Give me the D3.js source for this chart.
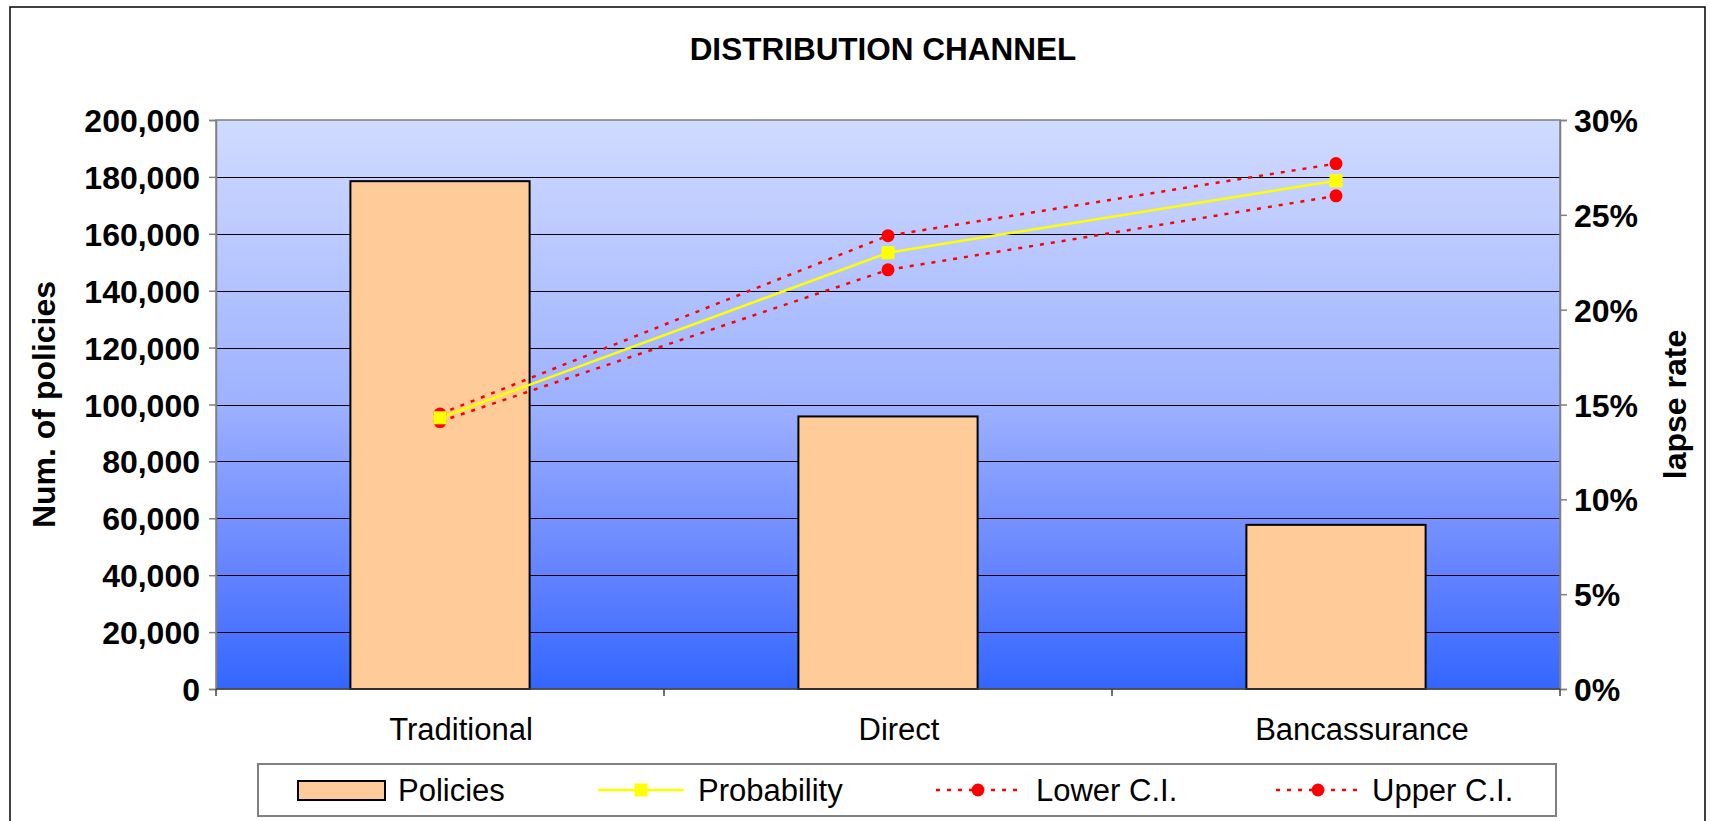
<!DOCTYPE html>
<html>
<head>
<meta charset="utf-8">
<script src="https://cdn.jsdelivr.net/npm/d3@7"></script>
<style>
  html, body { margin: 0; padding: 0; background: #ffffff; }
  svg { display: block; font-family: "Liberation Sans", Arial, sans-serif; }
</style>
</head>
<body>
<svg id="chart" width="1710" height="821"></svg>
<script>
// ---- data ----
const categories = ["Traditional", "Direct", "Bancassurance"];
const policies = [178500, 95800, 57700];
const probability = [0.143, 0.230, 0.268];
const lowerCI = [0.141, 0.221, 0.260];
const upperCI = [0.145, 0.239, 0.277];
const leftTicks = [0, 20000, 40000, 60000, 80000, 100000, 120000, 140000, 160000, 180000, 200000];
const rightTicks = [0, 0.05, 0.10, 0.15, 0.20, 0.25, 0.30];
const titleText = "DISTRIBUTION CHANNEL";
const leftTitle = "Num. of policies";
const rightTitle = "lapse rate";
const legendLabels = ["Policies", "Probability", "Lower C.I.", "Upper C.I."];

// ---- layout ----
const plot = { left: 216, right: 1560, top: 120, bottom: 689 };
const svg = d3.select("#chart");

// outer border
svg.append("rect").attr("x", 10).attr("y", 7).attr("width", 1695).attr("height", 830)
  .attr("fill", "#ffffff").attr("stroke", "#000000").attr("stroke-width", 1.5);

// gradient
const defs = svg.append("defs");
const grad = defs.append("linearGradient").attr("id", "bg").attr("x1", 0).attr("y1", 0).attr("x2", 0).attr("y2", 1);
[[0, "#D0DBFF"], [0.5, "#9DB1FF"], [0.78, "#6785FF"], [1, "#3366FF"]].forEach(([o, c]) =>
  grad.append("stop").attr("offset", o).attr("stop-color", c));

// scales
const x = d3.scaleBand().domain(categories).range([plot.left, plot.right]).paddingInner(0).paddingOuter(0);
const yL = d3.scaleLinear().domain([0, 200000]).range([plot.bottom, plot.top]);
const yR = d3.scaleLinear().domain([0, 0.30]).range([plot.bottom, plot.top]);
const barW = x.bandwidth() / 2.5;

// plot background
svg.append("rect").attr("x", plot.left).attr("y", plot.top)
  .attr("width", plot.right - plot.left).attr("height", plot.bottom - plot.top)
  .attr("fill", "url(#bg)");

// gridlines
svg.append("g").selectAll("line").data(leftTicks.filter(d => d > 0 && d < 200000)).join("line")
  .attr("x1", plot.left).attr("x2", plot.right)
  .attr("y1", d => Math.round(yL(d)) + 0.5).attr("y2", d => Math.round(yL(d)) + 0.5)
  .attr("stroke", "#000000").attr("stroke-width", 1);

// plot border
svg.append("rect").attr("x", plot.left).attr("y", plot.top)
  .attr("width", plot.right - plot.left).attr("height", plot.bottom - plot.top)
  .attr("fill", "none").attr("stroke", "#808080").attr("stroke-width", 1.5);

// bars
svg.append("g").selectAll("rect").data(categories).join("rect")
  .attr("x", d => x(d) + x.bandwidth() / 2 - barW / 2)
  .attr("y", (d, i) => yL(policies[i]))
  .attr("width", barW)
  .attr("height", (d, i) => plot.bottom - yL(policies[i]))
  .attr("fill", "#FFCC99").attr("stroke", "#000000").attr("stroke-width", 2);

// axes
const tickFont = (g) => g.selectAll("text").attr("font-size", 32).attr("font-weight", "bold")
  .attr("fill", "#000").attr("font-family", "'Liberation Sans', Arial, sans-serif");

const axL = svg.append("g").attr("transform", `translate(${plot.left},0)`)
  .call(d3.axisLeft(yL).tickValues(leftTicks).tickFormat(d3.format(",")).tickSize(7).tickPadding(9));
axL.select(".domain").attr("stroke", "#808080").attr("stroke-width", 1.5);
axL.selectAll(".tick line").attr("stroke", "#808080").attr("stroke-width", 1.5);
tickFont(axL);
axL.selectAll("text").attr("dy", "0.36em");

const axR = svg.append("g").attr("transform", `translate(${plot.right},0)`)
  .call(d3.axisRight(yR).tickValues(rightTicks).tickFormat(d3.format(".0%")).tickSize(7).tickPadding(7));
axR.select(".domain").attr("stroke", "#808080").attr("stroke-width", 1.5);
axR.selectAll(".tick line").attr("stroke", "#808080").attr("stroke-width", 1.5);
tickFont(axR);
axR.selectAll("text").attr("dy", "0.36em");

// x axis: boundary ticks + labels
const xb = svg.append("g");
xb.append("line").attr("x1", plot.left).attr("x2", plot.right)
  .attr("y1", plot.bottom).attr("y2", plot.bottom).attr("stroke", "#404040").attr("stroke-width", 1.5);
const bounds = categories.map(c => x(c)).concat([plot.right]);
xb.selectAll(".bt").data(bounds).join("line").attr("class", "bt")
  .attr("x1", d => d).attr("x2", d => d).attr("y1", plot.bottom).attr("y2", plot.bottom + 7)
  .attr("stroke", "#404040").attr("stroke-width", 1.5);
const labelShift = [21, 11, 26];
xb.selectAll(".cl").data(categories).join("text").attr("class", "cl")
  .attr("x", (d, i) => x(d) + x.bandwidth() / 2 + labelShift[i])
  .attr("y", 740)
  .attr("text-anchor", "middle").attr("font-size", 31).attr("fill", "#000")
  .text(d => d);

// lines
const cx = (i) => x(categories[i]) + x.bandwidth() / 2;
const lineGen = (arr) => d3.line().x((d, i) => cx(i)).y(d => yR(d))(arr);

[lowerCI, upperCI].forEach(arr => {
  svg.append("path").attr("d", lineGen(arr)).attr("fill", "none")
    .attr("stroke", "#FF0000").attr("stroke-width", 2.5).attr("stroke-dasharray", "4,7");
});
svg.append("path").attr("d", lineGen(probability)).attr("fill", "none")
  .attr("stroke", "#FFFF00").attr("stroke-width", 2.5);

[lowerCI, upperCI].forEach(arr => {
  svg.append("g").selectAll("circle").data(arr).join("circle")
    .attr("cx", (d, i) => cx(i)).attr("cy", d => yR(d)).attr("r", 6.5).attr("fill", "#FF0000");
});
svg.append("g").selectAll("rect").data(probability).join("rect")
  .attr("x", (d, i) => cx(i) - 6.5).attr("y", d => yR(d) - 6.5)
  .attr("width", 13).attr("height", 13).attr("fill", "#FFFF00");

// title
svg.append("text").attr("x", 883).attr("y", 60).attr("text-anchor", "middle")
  .attr("font-size", 31.5).attr("font-weight", "bold").text(titleText);

// axis titles
const midY = (plot.top + plot.bottom) / 2;
svg.append("text").attr("transform", `translate(55,${midY}) rotate(-90)`)
  .attr("text-anchor", "middle").attr("font-size", 32).attr("font-weight", "bold").text(leftTitle);
svg.append("text").attr("transform", `translate(1686,${midY}) rotate(-90)`)
  .attr("text-anchor", "middle").attr("font-size", 32).attr("font-weight", "bold").text(rightTitle);

// legend
const lg = svg.append("g");
lg.append("rect").attr("x", 258).attr("y", 764).attr("width", 1298).attr("height", 52)
  .attr("fill", "#ffffff").attr("stroke", "#808080").attr("stroke-width", 2);
const lgY = 790;
lg.append("rect").attr("x", 298).attr("y", lgY - 9).attr("width", 87).attr("height", 19)
  .attr("fill", "#FFCC99").attr("stroke", "#000").attr("stroke-width", 2);
lg.append("line").attr("x1", 598).attr("x2", 684).attr("y1", lgY).attr("y2", lgY)
  .attr("stroke", "#FFFF00").attr("stroke-width", 2.5);
lg.append("rect").attr("x", 641 - 6.5).attr("y", lgY - 6.5).attr("width", 13).attr("height", 13).attr("fill", "#FFFF00");
[[936, 1020], [1276, 1360]].forEach(([a, b]) => {
  lg.append("line").attr("x1", a).attr("x2", b).attr("y1", lgY).attr("y2", lgY)
    .attr("stroke", "#FF0000").attr("stroke-width", 2.5).attr("stroke-dasharray", "4,7");
  lg.append("circle").attr("cx", (a + b) / 2).attr("cy", lgY).attr("r", 6.5).attr("fill", "#FF0000");
});
const lgTextX = [398, 698, 1036, 1372];
lg.selectAll(".lt").data(legendLabels).join("text").attr("class", "lt")
  .attr("x", (d, i) => lgTextX[i]).attr("y", lgY + 11)
  .attr("font-size", 31).attr("fill", "#000").text(d => d);
</script>
</body>
</html>
